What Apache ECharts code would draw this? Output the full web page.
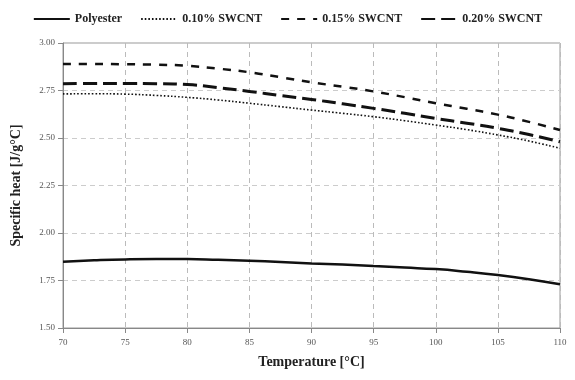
<!DOCTYPE html>
<html><head><meta charset="utf-8">
<script src="https://cdn.jsdelivr.net/npm/echarts@6/dist/echarts.min.js"></script>
<style>html,body{margin:0;padding:0;background:#fff}#c{width:575px;height:380px}</style>
</head><body><div id="c"></div>
<script>
const temps = [70, 72.5, 75, 77.5, 80, 82.5, 85, 87.5, 90, 92.5, 95, 97.5, 100, 102.5, 105, 107.5, 110];
const polyester = [1.849, 1.856, 1.861, 1.863, 1.863, 1.859, 1.854, 1.848, 1.840, 1.834, 1.826, 1.818, 1.810, 1.796, 1.779, 1.757, 1.730];
const swcnt010 = [2.732, 2.733, 2.731, 2.724, 2.714, 2.700, 2.683, 2.665, 2.647, 2.630, 2.612, 2.591, 2.568, 2.544, 2.516, 2.484, 2.446];
const swcnt015 = [2.890, 2.890, 2.888, 2.886, 2.880, 2.865, 2.846, 2.820, 2.793, 2.770, 2.745, 2.715, 2.683, 2.654, 2.623, 2.585, 2.542];
const swcnt020 = [2.786, 2.787, 2.787, 2.786, 2.781, 2.765, 2.745, 2.724, 2.703, 2.680, 2.656, 2.630, 2.603, 2.578, 2.551, 2.518, 2.480];
const seriesNames = ['Polyester', '0.10% SWCNT', '0.15% SWCNT', '0.20% SWCNT'];
const yTicks = ['1.50','1.75','2.00','2.25','2.50','2.75','3.00'];

function pairs(v){ return temps.map((t,i)=>[t,v[i]]); }
const font = '"Liberation Serif", "DejaVu Serif", serif';
const chart = echarts.init(document.getElementById('c'));
chart.setOption({
  animation: false,
  textStyle: { fontFamily: font },
  legend: {
    top: 8, left: 'center', itemWidth: 36, itemHeight: 10, itemGap: 18,
    itemStyle: { opacity: 0 },
    textStyle: { fontFamily: font, fontWeight: 'bold', fontSize: 12, color: '#222' },
    data: seriesNames
  },
  grid: { left: 63, right: 15, top: 43, bottom: 52, show: true, borderColor: '#999', borderWidth: 1 },
  xAxis: {
    type: 'value', min: 70, max: 110, interval: 5,
    name: 'Temperature [°C]', nameLocation: 'middle', nameGap: 27,
    nameTextStyle: { fontFamily: font, fontWeight: 'bold', fontSize: 14, color: '#222' },
    axisLine: { lineStyle: { color: '#888' } },
    axisTick: { show: true, lineStyle: { color: '#888' } },
    axisLabel: { fontSize: 9, color: '#555', fontFamily: font, margin: 10 },
    splitLine: { show: true, lineStyle: { color: '#bbb', type: [5, 4], width: 1 } }
  },
  yAxis: {
    type: 'value', min: 1.5, max: 3.0, interval: 0.25,
    name: 'Specific heat [J/g°C]', nameLocation: 'middle', nameGap: 40,
    nameTextStyle: { fontFamily: font, fontWeight: 'bold', fontSize: 14, color: '#222' },
    axisLine: { show: true, lineStyle: { color: '#888' } },
    axisTick: { show: true, inside: false, lineStyle: { color: '#888' } },
    axisLabel: { fontSize: 9, color: '#555', fontFamily: font, margin: 8,
      formatter: v => yTicks.find(t => Math.abs(parseFloat(t) - v) < 1e-6) || '' },
    splitLine: { show: true, lineStyle: { color: '#ccc', type: [5, 4], width: 1 } }
  },
  series: [
    { name: seriesNames[0], type: 'line', smooth: true, symbol: 'none', data: pairs(polyester),
      lineStyle: { color: '#111', width: 2.5, type: 'solid' }, itemStyle: { color: '#111' } },
    { name: seriesNames[1], type: 'line', smooth: true, symbol: 'none', data: pairs(swcnt010),
      lineStyle: { color: '#111', width: 1.6, type: [1.6, 2] }, itemStyle: { color: '#111' } },
    { name: seriesNames[2], type: 'line', smooth: true, symbol: 'none', data: pairs(swcnt015),
      lineStyle: { color: '#111', width: 2.5, type: [8, 8] }, itemStyle: { color: '#111' } },
    { name: seriesNames[3], type: 'line', smooth: true, symbol: 'none', data: pairs(swcnt020),
      lineStyle: { color: '#111', width: 3, type: [14, 6] }, itemStyle: { color: '#111' } }
  ]
});
</script></body></html>
